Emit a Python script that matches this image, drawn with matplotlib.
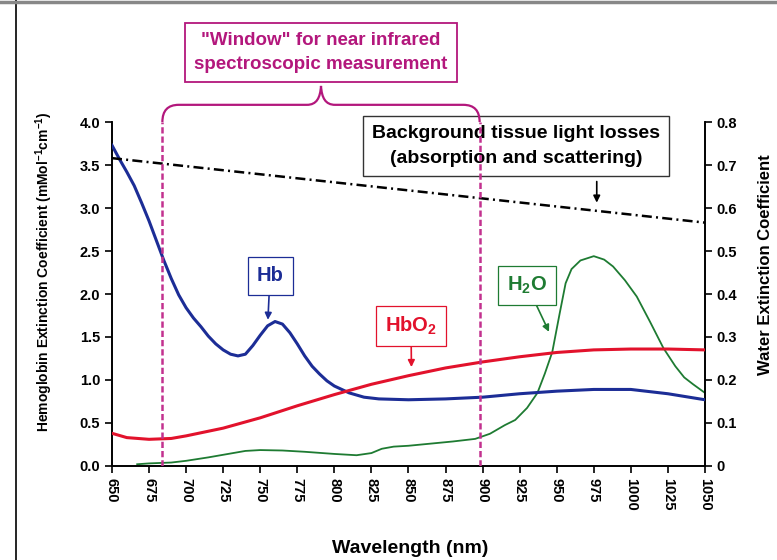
import matplotlib
matplotlib.use('Agg')
import matplotlib.pyplot as plt
from matplotlib.path import Path
from matplotlib.patches import PathPatch
from matplotlib.lines import Line2D

plt.rcParams['font.family'] = ['Liberation Sans', 'DejaVu Sans']
plt.rcParams['font.weight'] = 'bold'
plt.rcParams['axes.labelweight'] = 'bold'
plt.rcParams['mathtext.fontset'] = 'custom'
plt.rcParams['mathtext.rm'] = 'Liberation Sans:bold'
plt.rcParams['mathtext.bf'] = 'Liberation Sans:bold'
plt.rcParams['mathtext.it'] = 'Liberation Sans:bold'
plt.rcParams['mathtext.default'] = 'bf'

# deoxy-hemoglobin (left axis)
wl_hb = [650, 655, 660, 665, 670, 675, 680, 685, 690, 695, 700, 705, 710, 715, 720, 725, 730,
         735, 740, 745, 750, 755, 760, 765, 770, 775, 780, 785, 790, 795, 800, 810, 820, 830,
         850, 875, 900, 925, 950, 975, 1000, 1025, 1050]
hb = [3.73, 3.57, 3.42, 3.26, 3.06, 2.85, 2.62, 2.39, 2.18, 1.99, 1.84, 1.72, 1.62, 1.51, 1.42,
      1.35, 1.30, 1.28, 1.30, 1.40, 1.52, 1.63, 1.68, 1.65, 1.55, 1.42, 1.28, 1.16, 1.07, 0.99,
      0.93, 0.85, 0.80, 0.78, 0.77, 0.78, 0.80, 0.84, 0.87, 0.89, 0.89, 0.84, 0.77]

# oxy-hemoglobin (left axis)
wl_hbo2 = [650, 660, 675, 690, 700, 725, 750, 775, 800, 825, 850, 875, 900, 925, 950, 975,
           1000, 1025, 1050]
hbo2 = [0.38, 0.33, 0.31, 0.32, 0.35, 0.44, 0.56, 0.70, 0.83, 0.95, 1.05, 1.14, 1.21, 1.27,
        1.32, 1.35, 1.36, 1.36, 1.35]

# water (right axis)
wl_h2o = [667, 675, 690, 700, 715, 725, 740, 750, 765, 780, 800, 815, 825, 832, 840, 850, 865,
          880, 895, 905, 915, 922, 930, 937, 942, 947, 952, 956, 960, 966, 975, 982, 988, 996,
          1004, 1013, 1022, 1030, 1036, 1042, 1050]
h2o = [0.004, 0.006, 0.008, 0.012, 0.020, 0.026, 0.035, 0.037, 0.036, 0.033, 0.028, 0.025,
       0.030, 0.040, 0.045, 0.047, 0.052, 0.057, 0.063, 0.075, 0.095, 0.107, 0.135, 0.170,
       0.215, 0.265, 0.355, 0.425, 0.458, 0.478, 0.488, 0.480, 0.464, 0.432, 0.394, 0.335,
       0.274, 0.232, 0.206, 0.190, 0.170]

# background tissue losses (left axis)
wl_bg = [650, 1050]
bg = [3.58, 2.83]

window = [684, 898]

blue = '#1c2d96'
red = '#e2122c'
green = '#1e7b32'
magenta = '#b3177c'

fig = plt.figure(figsize=(7.77, 5.6), dpi=100)
ax = fig.add_axes([0.1441, 0.1679, 0.7632, 0.6142])
ax2 = ax.twinx()
ax.set_zorder(ax2.get_zorder() + 1)
ax.patch.set_visible(False)

ax2.plot(wl_h2o, h2o, color=green, lw=1.3)
ax.plot(wl_hb, hb, color=blue, lw=2.2, zorder=3)
ax.plot(wl_hbo2, hbo2, color=red, lw=2.2, zorder=3)
ax.plot(wl_bg, bg, color='black', lw=1.8, dashes=(4, 1.7, 0.8, 1.7), zorder=3)

for w in window:
    ax.axvline(w, color='#c2318f', lw=1.8, dashes=(2.5, 1.2), zorder=5)

# brace above the window
xl, xr = window
mid = (xl + xr) / 2
rx, yb, yh, yp = 11, 4.0, 4.2, 4.42
verts = [(xl, yb), (xl, yh), (xl + rx, yh),
         (mid - 9.5, yh),
         (mid - 3, yh), (mid - 0.5, yh + 0.08), (mid, yp),
         (mid + 0.5, yh + 0.08), (mid + 3, yh), (mid + 9.5, yh),
         (xr - rx, yh), (xr, yh), (xr, yb)]
codes = [Path.MOVETO, Path.CURVE3, Path.CURVE3, Path.LINETO,
         Path.CURVE4, Path.CURVE4, Path.CURVE4,
         Path.CURVE4, Path.CURVE4, Path.CURVE4,
         Path.LINETO, Path.CURVE3, Path.CURVE3]
ax.add_patch(PathPatch(Path(verts, codes), fill=False, ec=magenta, lw=1.6,
                       clip_on=False, zorder=6))

ax.text(mid, 4.81, '"Window" for near infrared\nspectroscopic measurement', ha='center',
        va='center', color=magenta, fontsize=13.5, linespacing=1.5, clip_on=False,
        bbox=dict(boxstyle='square,pad=0.5', fc='white', ec=magenta, lw=1.3), zorder=4)

ax.text(922.5, 3.72, 'Background tissue light losses\n(absorption and scattering)',
        ha='center', va='center', color='black', fontsize=14, linespacing=1.6,
        bbox=dict(boxstyle='square,pad=0.45', fc='white', ec='#333333', lw=1.0), zorder=4)
ax.annotate('', xy=(977, 3.03), xytext=(977, 3.34),
            arrowprops=dict(arrowstyle='-|>', color='black', lw=1.2, mutation_scale=10))

def label(txt, xy, xytext, col):
    ax.annotate(txt, xy=xy, xytext=xytext, ha='center', va='center', color=col,
                fontsize=14.5, zorder=4,
                bbox=dict(boxstyle='square,pad=0.45', fc='white', ec=col, lw=0.9),
                arrowprops=dict(arrowstyle='-|>', color=col, lw=1.2, mutation_scale=10,
                                shrinkA=0, shrinkB=0))

label('Hb', (755.2, 1.70), (756.6, 2.21), blue)
label(r'HbO$_2$', (852, 1.15), (851.7, 1.63), red)
label(r'H$_2$O', (944.8, 1.56), (930, 2.10), green)

ax.set_xlim(650, 1050)
ax.set_ylim(0, 4)
ax2.set_ylim(0, 0.8)
ax.set_xticks(range(650, 1051, 25))
ax.set_yticks([i * 0.5 for i in range(9)])
ax.set_yticklabels(['%.1f' % (i * 0.5) for i in range(9)])
ax2.set_yticks([i * 0.1 for i in range(9)])
ax2.set_yticklabels(['0'] + ['%.1f' % (i * 0.1) for i in range(1, 9)])
for lab in ax.get_xticklabels():
    lab.set_rotation(-90)

for a in (ax, ax2):
    a.spines['top'].set_visible(False)
    for s in a.spines.values():
        s.set_linewidth(1.2)
    a.tick_params(labelsize=10.5, length=5, width=1.2)

ax.set_xlabel('Wavelength (nm)', fontsize=14)
ax.xaxis.set_label_coords(0.5025, -0.215)
fig.text(44 / 777, 1 - 272 / 560,
         'Hemoglobin Extinction Coefficient (mMol$^{-1}$cm$^{-1}$)',
         rotation=90, ha='center', va='center', fontsize=10)
fig.text(765 / 777, 1 - 265 / 560, 'Water Extinction Coefficient',
         rotation=90, ha='center', va='center', fontsize=12)

# frame lines of the original slide
fig.add_artist(Line2D([16 / 777, 16 / 777], [0, 1], transform=fig.transFigure,
                      color='black', lw=1.2))
fig.add_artist(Line2D([0, 1], [1 - 2 / 560, 1 - 2 / 560], transform=fig.transFigure,
                      color='#888888', lw=2.5))

fig.savefig('out.png', dpi=100)
